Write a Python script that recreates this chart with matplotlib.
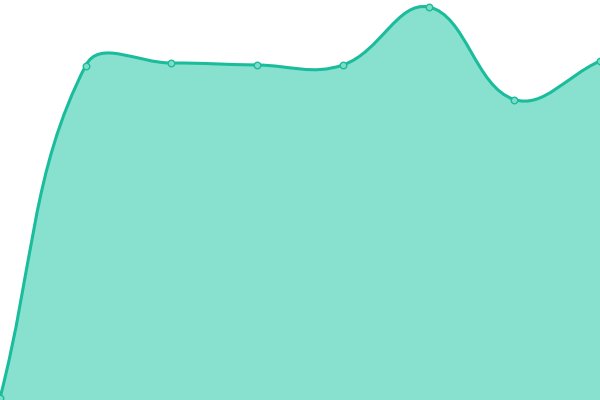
import matplotlib
matplotlib.use("Agg")
import matplotlib.pyplot as plt
import numpy as np
from matplotlib.path import Path
from matplotlib.patches import PathPatch

# point values (chart spans 0..400 vertically)
labels = ["1", "2", "3", "4", "5", "6", "7", "8"]
values = [2, 334.5, 337, 335, 335, 393, 300.5, 339]

line_color = "#1abc9c"
fill_color = "#88e0cf"
tension = 0.4
W, H = 600, 400


def control_points(xs, ys, t):
    n = len(xs)
    cps = []
    for i in range(n):
        px, py = (xs[i - 1], ys[i - 1]) if i > 0 else (xs[i], ys[i])
        nx, ny = (xs[i + 1], ys[i + 1]) if i < n - 1 else (xs[i], ys[i])
        cx, cy = xs[i], ys[i]
        d01 = np.hypot(cx - px, cy - py)
        d12 = np.hypot(nx - cx, ny - cy)
        tot = d01 + d12
        fa = t * d01 / tot if tot else 0
        fb = t * d12 / tot if tot else 0
        c1 = (cx - fa * (nx - px), cy - fa * (ny - py))
        c2 = (cx + fb * (nx - px), cy + fb * (ny - py))
        # keep control points inside the chart area
        c1 = (min(max(c1[0], 0), W), min(max(c1[1], 0), H))
        c2 = (min(max(c2[0], 0), W), min(max(c2[1], 0), H))
        cps.append((c1, c2))
    return cps


xs = np.linspace(0, W, len(values))
ys = np.array(values, dtype=float)
cps = control_points(xs, ys, tension)

verts = [(xs[0], ys[0])]
codes = [Path.MOVETO]
for i in range(1, len(xs)):
    verts += [cps[i - 1][1], cps[i][0], (xs[i], ys[i])]
    codes += [Path.CURVE4] * 3

fill_verts = verts + [(xs[-1], 0), (xs[0], 0), (xs[0], ys[0])]
fill_codes = codes + [Path.LINETO, Path.LINETO, Path.CLOSEPOLY]

fig = plt.figure(figsize=(6, 4), dpi=100)
ax = fig.add_axes([0, 0, 1, 1])
ax.set_xlim(0, W)
ax.set_ylim(0, H)
ax.axis("off")

ax.add_patch(PathPatch(Path(fill_verts, fill_codes), facecolor=fill_color,
                       edgecolor="none", zorder=1))
ax.add_patch(PathPatch(Path(verts, codes), facecolor="none",
                       edgecolor=line_color, lw=2.2, zorder=2))
ax.scatter(xs, ys, s=22, facecolor="#7fdcc6", edgecolor=line_color,
           linewidth=1, zorder=3, clip_on=False)

fig.savefig("out.png", dpi=100)
